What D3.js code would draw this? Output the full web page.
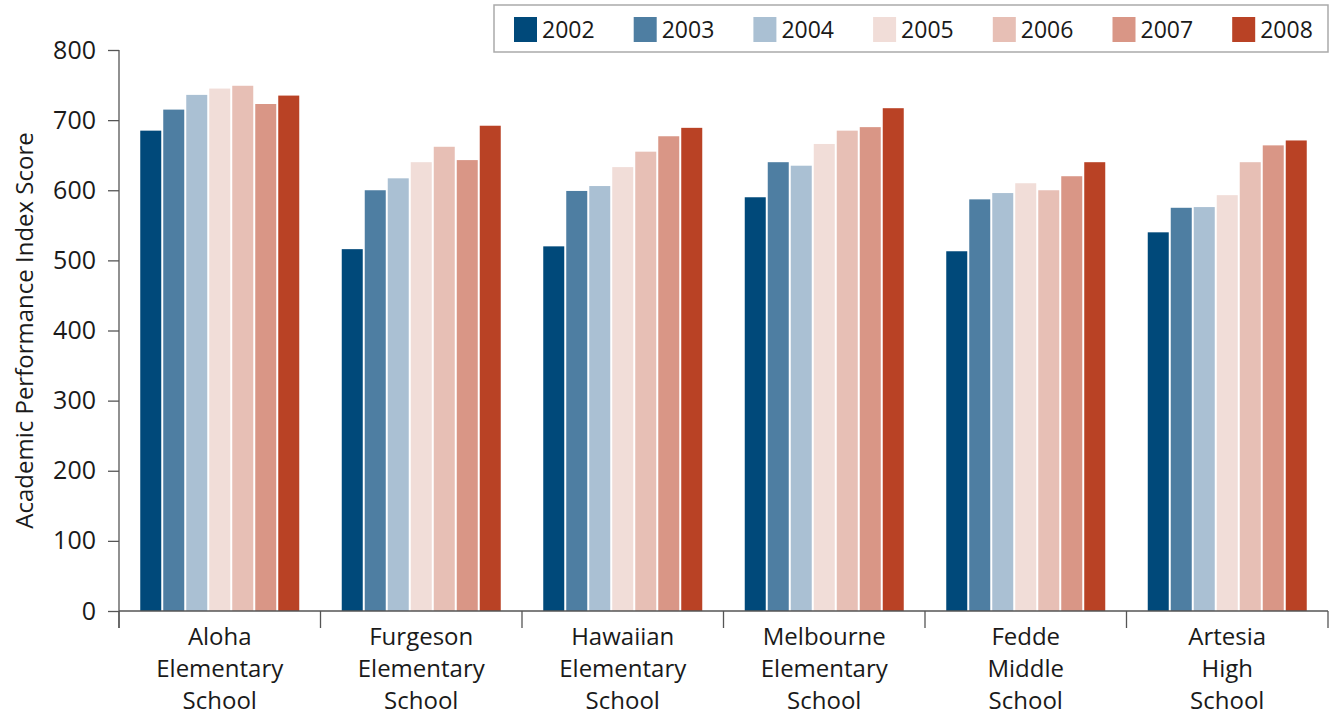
<!DOCTYPE html>
<html>
<head>
<meta charset="utf-8">
<script src="https://cdn.jsdelivr.net/npm/d3@7"></script>
<style>
  body { margin: 0; background: #fff; }
  text { font-family: "Open Sans", sans-serif; fill: #1a1a1a; }
</style>
</head>
<body>
<div id="chart"></div>
<script>
// data
const schools = [
  ["Aloha", "Elementary", "School"],
  ["Furgeson", "Elementary", "School"],
  ["Hawaiian", "Elementary", "School"],
  ["Melbourne", "Elementary", "School"],
  ["Fedde", "Middle", "School"],
  ["Artesia", "High", "School"]
];
const years = ["2002", "2003", "2004", "2005", "2006", "2007", "2008"];
const scores2002 = [685, 516, 520, 590, 513, 540];
const scores2003 = [715, 600, 599, 640, 587, 575];
const scores2004 = [736, 617, 606, 635, 596, 576];
const scores2005 = [745, 640, 633, 666, 610, 593];
const scores2006 = [749, 662, 655, 685, 600, 640];
const scores2007 = [723, 643, 677, 690, 620, 664];
const scores2008 = [735, 692, 689, 717, 640, 671];
const yTicks = [0, 100, 200, 300, 400, 500, 600, 700, 800];
const colors = ["#00497a", "#4e7ea2", "#aac0d3", "#f1ddd8", "#e7bfb5", "#d99686", "#b94225"];

const series = [scores2002, scores2003, scores2004, scores2005, scores2006, scores2007, scores2008];

//*********************************************
// svg canvas
const canvWidth = 1332, canvHeight = 713;
const svg = d3.select("#chart").append("svg")
    .attr("width", canvWidth)
    .attr("height", canvHeight);

const margin = {top: 50, right: 4, bottom: 102, left: 119};
const width = canvWidth - margin.left - margin.right;
const height = canvHeight - margin.top - margin.bottom;

const g = svg.append("g")
    .attr("transform", "translate(" + margin.left + "," + margin.top + ")");

// scales
const names = schools.map(d => d.join(" "));
const x0 = d3.scaleBand()
    .domain(names)
    .range([0, width]);

const groupW = 159;
const x1 = d3.scaleBand()
    .domain(years)
    .range([(x0.bandwidth() - groupW) / 2, (x0.bandwidth() + groupW) / 2])
    .paddingInner(2 / 23);

const yScale = d3.scaleLinear()
    .domain([0, 800])
    .range([height, 0]);

const color = d3.scaleOrdinal().domain(years).range(colors);

// bars
const groups = g.selectAll(".school")
    .data(names)
    .enter().append("g")
    .attr("class", "school")
    .attr("transform", d => "translate(" + x0(d) + ",0)");

groups.selectAll("rect")
    .data((d, i) => years.map((yr, j) => ({year: yr, value: series[j][i]})))
    .enter().append("rect")
    .attr("x", d => x1(d.year))
    .attr("width", x1.bandwidth())
    .attr("y", d => yScale(d.value))
    .attr("height", d => height - yScale(d.value))
    .attr("fill", d => color(d.year));

// y-axis
const yAxis = d3.axisLeft(yScale).tickValues(yTicks).tickSize(11).tickPadding(12);
const gy = g.append("g").attr("id", "y-axis").call(yAxis);
gy.select(".domain").remove();
gy.selectAll(".tick line").attr("stroke", "#555").attr("stroke-width", 1.3);
gy.selectAll(".tick text").style("font-size", "25px").attr("fill", "#1a1a1a");
gy.append("line")
    .attr("x1", 0).attr("x2", 0)
    .attr("y1", 0).attr("y2", height + 17)
    .attr("stroke", "#555").attr("stroke-width", 1.3);

// x-axis
g.append("line")
    .attr("x1", 0).attr("x2", width)
    .attr("y1", height).attr("y2", height)
    .attr("stroke", "#555").attr("stroke-width", 1.6);

const xTicks = names.map(n => x0(n)).concat([width]);
g.selectAll(".xtick")
    .data(xTicks)
    .enter().append("line")
    .attr("class", "xtick")
    .attr("x1", d => d).attr("x2", d => d)
    .attr("y1", height).attr("y2", height + 17)
    .attr("stroke", "#555").attr("stroke-width", 1.3);

// category labels, three lines each
const labels = g.selectAll(".cat")
    .data(schools)
    .enter().append("text")
    .attr("class", "cat")
    .attr("x", (d, i) => x0(names[i]) + x0.bandwidth() / 2)
    .attr("y", height + 34)
    .style("font-size", "24px")
    .style("text-anchor", "middle");
labels.selectAll("tspan")
    .data(d => d)
    .enter().append("tspan")
    .attr("x", function () { return d3.select(this.parentNode).attr("x"); })
    .attr("dy", (d, i) => i === 0 ? 0 : 32)
    .text(d => d);

// y-axis title
svg.append("text")
    .attr("transform", "translate(33," + (margin.top + height / 2) + ") rotate(-90)")
    .style("text-anchor", "middle")
    .style("font-size", "24px")
    .attr("fill", "#333")
    .text("Academic Performance Index Score");

// legend
const legend = svg.append("g").attr("transform", "translate(494,5)");
legend.append("rect")
    .attr("width", 834).attr("height", 47)
    .attr("fill", "#fff")
    .attr("stroke", "#aaa").attr("stroke-width", 1.5);

const item = legend.selectAll(".item")
    .data(years)
    .enter().append("g")
    .attr("class", "item")
    .attr("transform", (d, i) => "translate(" + (20 + i * 119.7) + ",12)");
item.append("rect")
    .attr("width", 23).attr("height", 25)
    .attr("fill", d => color(d));
item.append("text")
    .attr("x", 28).attr("y", 21)
    .style("font-size", "23px")
    .text(d => d);
</script>
</body>
</html>
